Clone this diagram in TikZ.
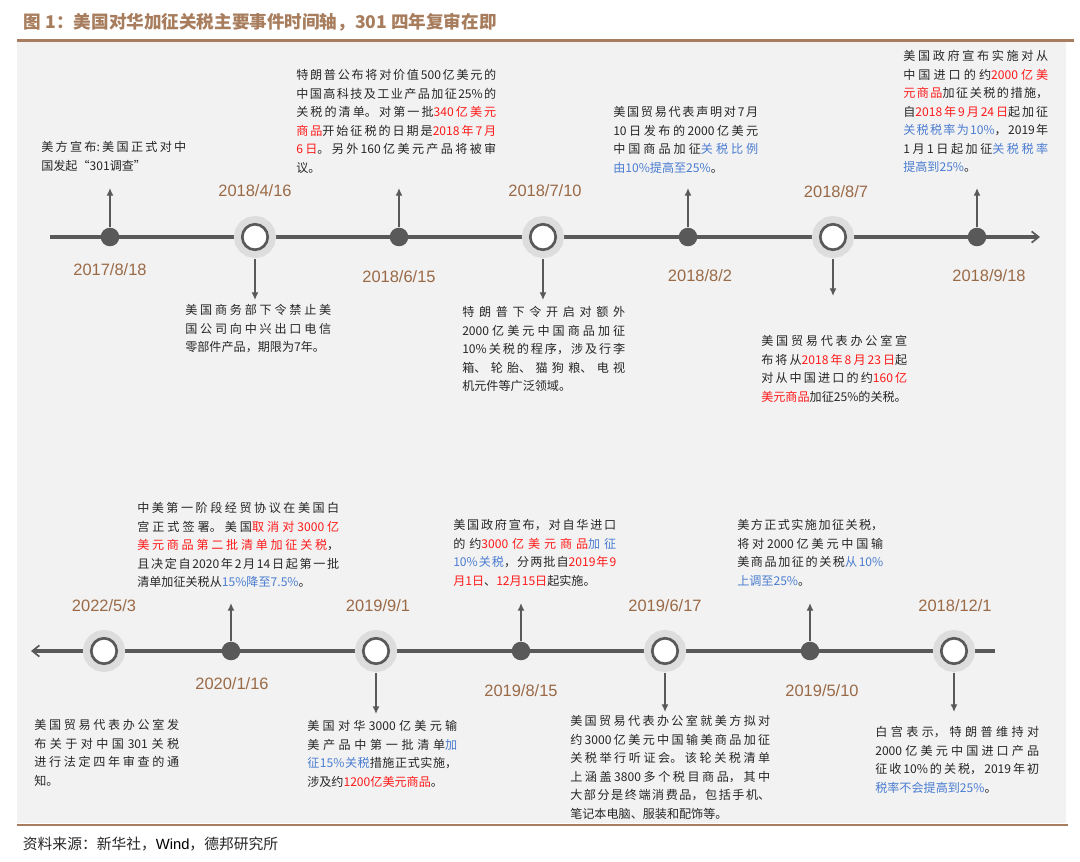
\documentclass[tikz,border=0pt]{standalone}
\usepackage{fontspec}
\setmainfont{Noto Sans CJK SC}
\newfontfamily\datefont{Liberation Sans}
\usetikzlibrary{arrows.meta}
\XeTeXlinebreaklocale "zh"
\XeTeXlinebreakskip=0pt plus 3pt minus 1pt
\definecolor{datebrown}{HTML}{9A6A47}
\definecolor{rulebrown}{HTML}{A77D5D}
\definecolor{axisgray}{HTML}{595959}
\definecolor{halogray}{HTML}{DDDDDD}
\definecolor{panelgray}{HTML}{F2F2F2}
\definecolor{notetext}{HTML}{262626}
\definecolor{hired}{HTML}{FF1A1A}
\definecolor{hiblue}{HTML}{4A7CD1}
\newcommand{\hred}[1]{\textcolor{hired}{#1}}
\newcommand{\hblue}[1]{\textcolor{hiblue}{#1}}

\begin{document}
\begin{tikzpicture}
    [x=0.025cm, y=-0.025cm,
     axis/.style={draw=axisgray, line width=2.85pt},
     dot/.style={circle, fill=axisgray, minimum size=13.2pt, inner sep=0pt},
     ring/.style={circle, draw=axisgray, line width=1.9pt, fill=white, minimum size=18.1pt, inner sep=0pt,
                  preaction={draw=halogray, line width=11.8pt}},
     pin/.style={draw=axisgray, line width=1pt, -{Latex[length=5.5pt,width=5pt]}},
     pindown/.style={pin, shorten <=5.9pt},
     date/.style={font=\datefont\fontsize{11.7}{14}\selectfont, text=datebrown},
     note/.style={anchor=north west, inner sep=0pt, align=justify, text=notetext,
                  font=\fontsize{8.6}{13.2}\selectfont}]

    \useasboundingbox (0,0) rectangle (1080,862);
    \fill[panelgray] (17,42) rectangle (1066,823);
    \draw[rulebrown, line width=2.1pt] (17,40.5) -- (1074,40.5);
    \draw[rulebrown, line width=2.1pt] (17,825) -- (1068,825);

    \node[anchor=west, font=\bfseries\fontsize{12.5}{15}\selectfont, text=rulebrown] (title) at (19,22)
        {图 1：美国对华加征关税主要事件时间轴，301 四年复审在即};
    \node[anchor=west, font=\fontsize{10.5}{13}\selectfont, text=notetext] (source) at (18,844)
        {资料来源：新华社，{\datefont\color{black}Wind}，德邦研究所};

    \coordinate (l1) at (50,237);
    \coordinate (r1) at (1040,237);
    \draw[axis, -{Straight Barb[length=5pt,width=8pt,line width=1.2pt]}] (l1) -- (r1);

    \node[dot] (c1) at (110,237) {};
    \node[ring] (c2) at (255,237) {};
    \node[dot] (c3) at (399,237) {};
    \node[ring] (c4) at (543,237) {};
    \node[dot] (c5) at (688,237) {};
    \node[ring] (c6) at (833,237) {};
    \node[dot] (c7) at (977,237) {};

    \node[date] (d1) at (110,270) {2017/8/18};
    \node[date] (d2) at (255,191) {2018/4/16};
    \node[date] (d3) at (399,277) {2018/6/15};
    \node[date] (d4) at (545,191) {2018/7/10};
    \node[date] (d5) at (700,276) {2018/8/2};
    \node[date] (d6) at (836,192) {2018/8/7};
    \node[date] (d7) at (989,276) {2018/9/18};

    \coordinate (a1) at (110,188);
    \coordinate (a2) at (255,300);
    \coordinate (a3) at (399,188);
    \coordinate (a4) at (543,300);
    \coordinate (a5) at (688,188);
    \coordinate (a6) at (833,296);
    \coordinate (a7) at (977,188);
    \draw[pin] (c1) -- (a1);
    \draw[pindown] (c2) -- (a2);
    \draw[pin] (c3) -- (a3);
    \draw[pindown] (c4) -- (a4);
    \draw[pin] (c5) -- (a5);
    \draw[pindown] (c6) -- (a6);
    \draw[pin] (c7) -- (a7);

    \node[note, text width=3.625cm] (n1) at (41,141) {美方宣布:美国正式对中\linebreak%
        国发起“301调查”};
    \node[note, text width=3.65cm] (n2) at (185,304) {美国商务部下令禁止美\linebreak%
        国公司向中兴出口电信\linebreak%
        零部件产品，期限为7年。};
    \node[note, text width=5cm] (n3) at (296,69) {特朗普公布将对价值500亿美元的\linebreak%
        中国高科技及工业产品加征25\%的\linebreak%
        关税的清单。对第一批\hred{340亿美元}\linebreak%
        \hred{商品}开始征税的日期是\hred{2018年7月}\linebreak%
        \hred{6日}。另外160亿美元产品将被审\linebreak%
        议。};
    \node[note, text width=4.075cm] (n4) at (462,306) {特朗普下令开启对额外\linebreak%
        2000亿美元中国商品加征\linebreak%
        10\%关税的程序，涉及行李\linebreak%
        箱、轮胎、猫狗粮、电视\linebreak%
        机元件等广泛领域。};
    \node[note, text width=3.625cm] (n5) at (613,106) {美国贸易代表声明对7月\linebreak%
        10日发布的2000亿美元\linebreak%
        中国商品加征\hblue{关税比例}\linebreak%
        \hblue{由10\%提高至25\%}。};
    \node[note, text width=3.65cm] (n6) at (761,335) {美国贸易代表办公室宣\linebreak%
        布将从\hred{2018年8月23日}起\linebreak%
        对从中国进口的约\hred{160亿}\linebreak%
        \hred{美元商品}加征25\%的关税。};
    \node[note, text width=3.625cm] (n7) at (903,50) {美国政府宣布实施对从\linebreak%
        中国进口的约\hred{2000亿美}\linebreak%
        \hred{元商品}加征关税的措施，\linebreak%
        自\hred{2018年9月24日}起加征\linebreak%
        \hblue{关税税率为10\%}，2019年\linebreak%
        1月1日起加征\hblue{关税税率}\linebreak%
        \hblue{提高到25\%}。};

    \coordinate (l2) at (995,651);
    \coordinate (r2) at (31,651);
    \draw[axis, -{Straight Barb[length=5pt,width=8pt,line width=1.2pt]}] (l2) -- (r2);

    \node[ring] (c8) at (104,651) {};
    \node[dot] (c9) at (231,651) {};
    \node[ring] (c10) at (376,651) {};
    \node[dot] (c11) at (521,651) {};
    \node[ring] (c12) at (665,651) {};
    \node[dot] (c13) at (810,651) {};
    \node[ring] (c14) at (954,651) {};

    \node[date] (d8) at (104,606) {2022/5/3};
    \node[date] (d9) at (232,684) {2020/1/16};
    \node[date] (d10) at (378,606) {2019/9/1};
    \node[date] (d11) at (521,691) {2019/8/15};
    \node[date] (d12) at (665,606) {2019/6/17};
    \node[date] (d13) at (822,691) {2019/5/10};
    \node[date] (d14) at (955,606) {2018/12/1};

    \coordinate (a9) at (231,603);
    \coordinate (a10) at (376,714);
    \coordinate (a11) at (521,603);
    \coordinate (a12) at (665,712);
    \coordinate (a13) at (810,603);
    \coordinate (a14) at (954,712);
    \draw[pin] (c9) -- (a9);
    \draw[pindown] (c10) -- (a10);
    \draw[pin] (c11) -- (a11);
    \draw[pindown] (c12) -- (a12);
    \draw[pin] (c13) -- (a13);
    \draw[pindown] (c14) -- (a14);

    \node[note, text width=3.625cm] (n8) at (34,719) {美国贸易代表办公室发\linebreak%
        布关于对中国 301 关税\linebreak%
        进行法定四年审查的通\linebreak%
        知。};
    \node[note, text width=5.05cm] (n9) at (137,502) {中美第一阶段经贸协议在美国白\linebreak%
        宫正式签署。美国\hred{取消对3000亿}\linebreak%
        \hred{美元商品第二批清单加征关税}，\linebreak%
        且决定自2020年2月14日起第一批\linebreak%
        清单加征关税从\hblue{15\%降至7.5\%}。};
    \node[note, text width=3.75cm] (n10) at (307,720) {美国对华3000亿美元输\linebreak%
        美产品中第一批清单\hblue{加}\linebreak%
        \hblue{征15\%关税}措施正式实施，\linebreak%
        涉及约\hred{1200亿美元商品}。};
    \node[note, text width=4.075cm] (n11) at (453,519) {美国政府宣布，对自华进口\linebreak%
        的约\hred{3000亿美元商品}\hblue{加征}\linebreak%
        \hblue{10\%关税}，分两批自\hred{2019年9}\linebreak%
        \hred{月1日}、\hred{12月15日}起实施。};
    \node[note, text width=5cm] (n12) at (570,715) {美国贸易代表办公室就美方拟对\linebreak%
        约3000亿美元中国输美商品加征\linebreak%
        关税举行听证会。该轮关税清单\linebreak%
        上涵盖3800多个税目商品，其中\linebreak%
        大部分是终端消费品，包括手机、\linebreak%
        笔记本电脑、服装和配饰等。};
    \node[note, text width=3.65cm] (n13) at (737,519) {美方正式实施加征关税，\linebreak%
        将对2000亿美元中国输\linebreak%
        美商品加征的关税\hblue{从10\%}\linebreak%
        \hblue{上调至25\%}。};
    \node[note, text width=4.1cm] (n14) at (875,726) {白宫表示，特朗普维持对\linebreak%
        2000亿美元中国进口产品\linebreak%
        征收10\%的关税，2019年初\linebreak%
        \hblue{税率不会提高到25\%}。};
\end{tikzpicture}
\end{document}
